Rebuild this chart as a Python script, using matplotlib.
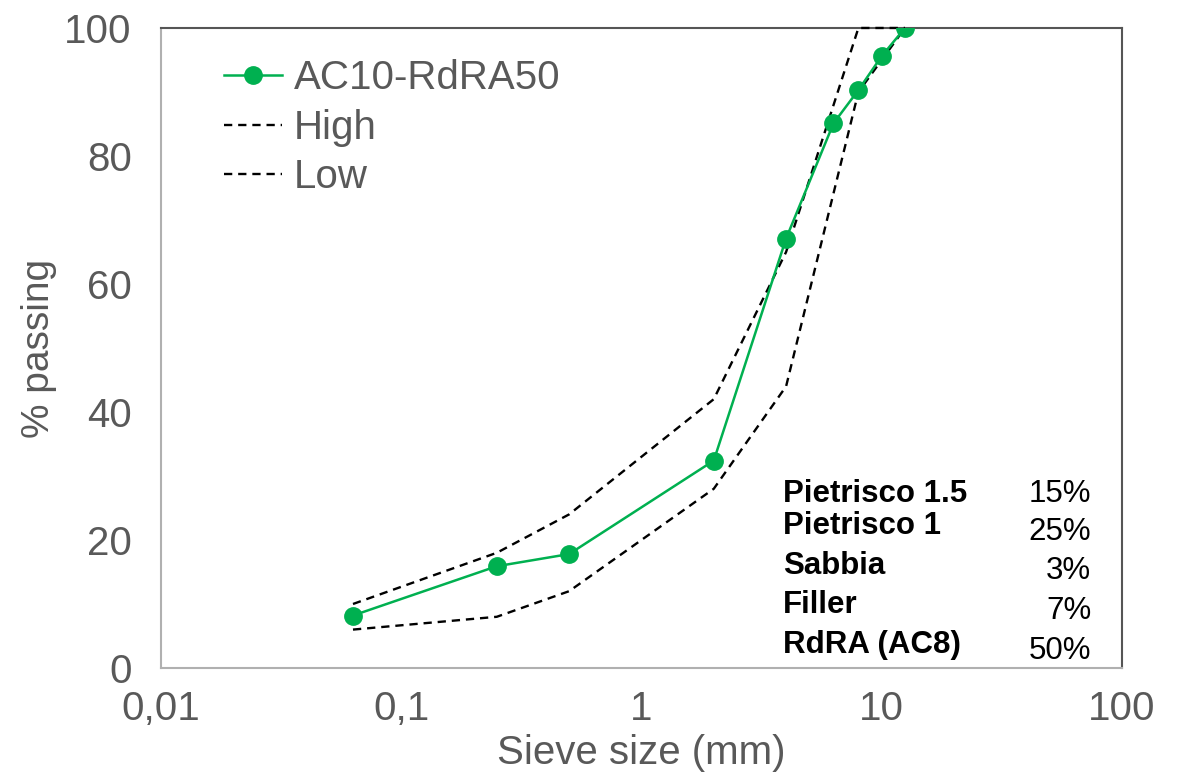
import matplotlib
matplotlib.use("Agg")
import matplotlib.pyplot as plt
from matplotlib.ticker import FixedLocator, FixedFormatter, NullLocator

plt.rcParams['font.family'] = ['Liberation Sans', 'DejaVu Sans']

# data
sieve = [0.063, 0.25, 0.5, 2, 4, 6.3, 8, 10, 12.5]
passing = [8.2, 15.9, 17.8, 32.4, 67.1, 85.1, 90.3, 95.6, 100]

lim_sieve = [0.063, 0.25, 0.5, 2, 4, 8, 12.5]
high = [10, 18, 24, 42, 65, 100, 100]
low = [6, 8, 12, 28, 44, 90, 100]

mix_names = ['Pietrisco 1.5', 'Pietrisco 1', 'Sabbia', 'Filler', 'RdRA (AC8)']
mix_pct = ['15%', '25%', '3%', '7%', '50%']

xticks = [0.01, 0.1, 1, 10, 100]
xtick_labels = ['0,01', '0,1', '1', '10', '100']

green = '#00b050'
grey = '#595959'

fig = plt.figure(figsize=(11.8, 7.77), dpi=100)
ax = fig.add_axes([0.1364, 0.1403, 0.8144, 0.8237])

ax.plot(sieve, passing, color=green, lw=1.8, marker='o', ms=12.5, label='AC10-RdRA50', zorder=4)
ax.plot(lim_sieve, high, color='black', lw=1.7, ls=(0, (3.5, 2.5)), label='High', zorder=3, clip_on=False)
ax.plot(lim_sieve, low, color='black', lw=1.7, ls=(0, (3.5, 2.5)), label='Low', zorder=3)

ax.set_xscale('log')
ax.set_xlim(0.01, 100)
ax.set_ylim(0, 100)
ax.xaxis.set_major_locator(FixedLocator(xticks))
ax.xaxis.set_major_formatter(FixedFormatter(xtick_labels))
ax.xaxis.set_minor_locator(NullLocator())
ax.set_yticks([0, 20, 40, 60, 80, 100])
ax.tick_params(length=0, labelsize=29, colors=grey)
ax.tick_params(axis='x', pad=16)
ax.tick_params(axis='y', pad=21)

ax.set_xlabel('Sieve size (mm)', fontsize=29, color=grey, labelpad=4)
ax.set_ylabel('% passing', fontsize=28, color=grey)
ax.yaxis.set_label_coords(-0.108, 0.5)

for s in ['left', 'bottom']:
    ax.spines[s].set_color('#b0b0b0')
    ax.spines[s].set_linewidth(1.5)
for s in ['top', 'right']:
    ax.spines[s].set_color('#555555')
    ax.spines[s].set_linewidth(1.5)

leg = ax.legend(loc='upper left', bbox_to_anchor=(0.036, 0.995), frameon=False, fontsize=29,
                handlelength=1.45, handletextpad=0.3, labelspacing=0.28, borderaxespad=0.3)
for t in leg.get_texts():
    t.set_color(grey)

ys = [0.272, 0.222, 0.16, 0.098, 0.036]
ys2 = [0.272, 0.213, 0.151, 0.089, 0.027]
for name, y in zip(mix_names, ys):
    ax.text(0.647, y, name, transform=ax.transAxes, fontsize=22.5, fontweight='bold',
            color='black', ha='left', va='center')
for pct, y in zip(mix_pct, ys2):
    ax.text(0.968, y, pct, transform=ax.transAxes, fontsize=22.5,
            color='black', ha='right', va='center')

fig.savefig('out.png', dpi=100)
